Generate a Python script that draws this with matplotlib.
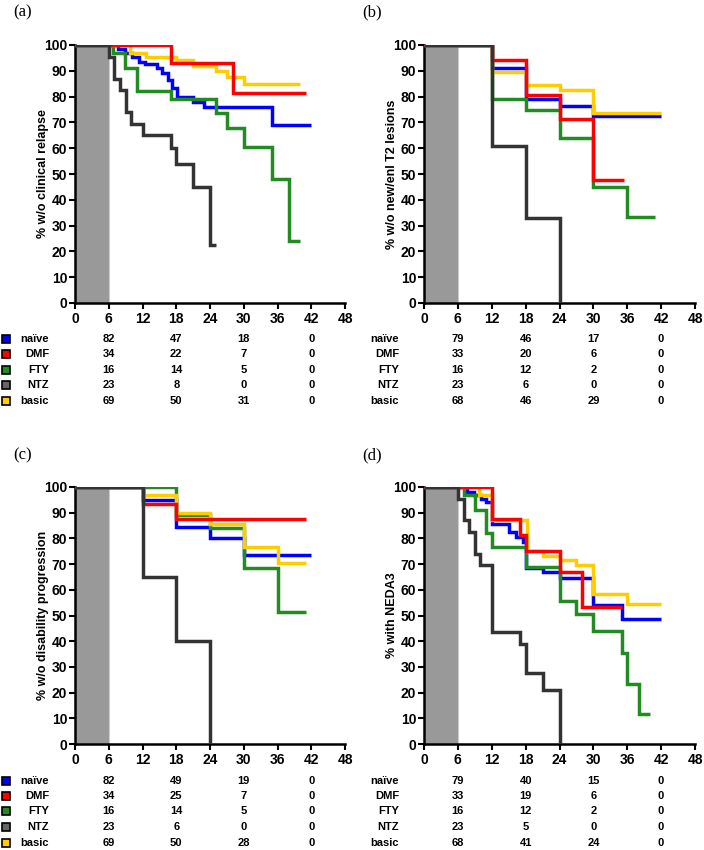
import matplotlib
matplotlib.use("Agg")
import matplotlib.pyplot as plt
from matplotlib.transforms import blended_transform_factory
from matplotlib.patches import Rectangle

plt.rcParams['font.family'] = ['Liberation Sans', 'DejaVu Sans']

# ---------------- data ----------------
groups = ["naïve", "DMF", "FTY", "NTZ", "basic"]
colors = {"naïve": "#0000ff", "DMF": "#ff0000", "FTY": "#228b22", "NTZ": "#333333", "basic": "#ffcc00"}
square_colors = {"naïve": "#0000ff", "DMF": "#ff0000", "FTY": "#228b22", "NTZ": "#666666", "basic": "#ffcc00"}
draw_order = ["naïve", "FTY", "basic", "DMF", "NTZ"]
xticks = [0, 6, 12, 18, 24, 30, 36, 42, 48]
yticks = [0, 10, 20, 30, 40, 50, 60, 70, 80, 90, 100]
risk_times = [6, 18, 30, 42]

# Panel (a): clinical relapse
A_naive_t = [0, 7.7, 8.9, 10.1, 11.3, 12.4, 14.5, 15.5, 16.5, 17.2, 18.1, 21, 23, 35, 42]
A_naive_s = [100, 98.5, 97, 95.5, 93.5, 92.5, 91, 89, 86.5, 83.5, 80, 78, 76, 69, 69]
A_dmf_t = [0, 17, 28, 41]
A_dmf_s = [100, 93, 81.5, 81.5]
A_fty_t = [0, 6.8, 8.9, 11, 17, 25, 27, 30, 35, 38, 40]
A_fty_s = [100, 97, 91, 82, 79, 73.5, 68, 60.5, 48, 24, 24]
A_ntz_t = [0, 6, 7, 8, 9, 10, 12, 17, 18, 21, 24, 25]
A_ntz_s = [100, 95.5, 87, 82.5, 74, 69.5, 65, 60, 54, 45, 22.5, 22.5]
A_basic_t = [0, 9.7, 12.7, 18, 21, 25, 27, 30, 40]
A_basic_s = [100, 97, 95.5, 94, 92, 90, 87.5, 85, 85]

# Panel (b): new/enlarging T2 lesions
B_naive_t = [0, 12, 18, 24, 30, 42]
B_naive_s = [100, 91, 79, 76.5, 72.5, 72.5]
B_dmf_t = [0, 12, 18, 24, 30, 35.5]
B_dmf_s = [100, 94, 80.5, 71.5, 47.5, 47.5]
B_fty_t = [0, 12, 18, 24, 30, 36, 41]
B_fty_s = [100, 79, 75, 64, 45, 33.5, 33.5]
B_ntz_t = [0, 12, 18, 24, 24]
B_ntz_s = [100, 61, 33, 0, 0]
B_basic_t = [0, 12, 18, 24, 30, 42]
B_basic_s = [100, 89.5, 84.5, 82.5, 73.5, 73.5]

# Panel (c): disability progression
C_naive_t = [0, 12, 18, 24, 30, 42]
C_naive_s = [100, 95, 84.5, 80, 73.5, 73.5]
C_dmf_t = [0, 12, 18, 41]
C_dmf_s = [100, 93.5, 87.5, 87.5]
C_fty_t = [0, 18, 24, 30, 36, 41]
C_fty_s = [100, 89, 84, 68.5, 51.5, 51.5]
C_ntz_t = [0, 12, 18, 24, 24]
C_ntz_s = [100, 65, 40, 0, 0]
C_basic_t = [0, 12, 18, 24, 30, 36, 41]
C_basic_s = [100, 97, 90, 85.5, 76.5, 70.5, 70.5]

# Panel (d): NEDA3
D_naive_t = [0, 7.7, 8.9, 10.1, 11, 12, 15, 16.3, 17.5, 18.1, 21, 24, 30, 35, 42]
D_naive_s = [100, 98, 97, 95.5, 94, 85.5, 82.5, 80.5, 78.5, 68.5, 67, 64.5, 54, 48.5, 48.5]
D_dmf_t = [0, 12, 17, 18, 24, 28, 35]
D_dmf_s = [100, 87.5, 81.5, 75, 67, 53.5, 53.5]
D_fty_t = [0, 7, 9, 11, 12, 18, 24, 27, 30, 35, 36, 38, 40]
D_fty_s = [100, 97, 91, 82, 76.5, 69, 55.5, 50.5, 44, 35.5, 23.5, 11.5, 11.5]
D_ntz_t = [0, 6, 7, 8, 9, 10, 12, 17, 18, 21, 24, 24]
D_ntz_s = [100, 95.5, 87, 82.5, 74, 69.5, 43.5, 39, 27.5, 21, 0, 0]
D_basic_t = [0, 9.8, 12, 18.2, 21, 24, 27, 30, 36, 42]
D_basic_s = [100, 97, 87, 75, 73, 71.5, 69.5, 58.5, 54.5, 54.5]

# numbers at risk
A_risk = {"naïve": [82, 47, 18, 0], "DMF": [34, 22, 7, 0], "FTY": [16, 14, 5, 0], "NTZ": [23, 8, 0, 0], "basic": [69, 50, 31, 0]}
B_risk = {"naïve": [79, 46, 17, 0], "DMF": [33, 20, 6, 0], "FTY": [16, 12, 2, 0], "NTZ": [23, 6, 0, 0], "basic": [68, 46, 29, 0]}
C_risk = {"naïve": [82, 49, 19, 0], "DMF": [34, 25, 7, 0], "FTY": [16, 14, 5, 0], "NTZ": [23, 6, 0, 0], "basic": [69, 50, 28, 0]}
D_risk = {"naïve": [79, 40, 15, 0], "DMF": [33, 19, 6, 0], "FTY": [16, 12, 2, 0], "NTZ": [23, 5, 0, 0], "basic": [68, 41, 24, 0]}

ylabels = ["% w/o clinical relapse", "% w/o new/enl T2 lesions",
           "% w/o disability progression", "% with NEDA3"]
panel_letters = ["(a)", "(b)", "(c)", "(d)"]

panels = [
    {"naïve": (A_naive_t, A_naive_s), "DMF": (A_dmf_t, A_dmf_s), "FTY": (A_fty_t, A_fty_s),
     "NTZ": (A_ntz_t, A_ntz_s), "basic": (A_basic_t, A_basic_s)},
    {"naïve": (B_naive_t, B_naive_s), "DMF": (B_dmf_t, B_dmf_s), "FTY": (B_fty_t, B_fty_s),
     "NTZ": (B_ntz_t, B_ntz_s), "basic": (B_basic_t, B_basic_s)},
    {"naïve": (C_naive_t, C_naive_s), "DMF": (C_dmf_t, C_dmf_s), "FTY": (C_fty_t, C_fty_s),
     "NTZ": (C_ntz_t, C_ntz_s), "basic": (C_basic_t, C_basic_s)},
    {"naïve": (D_naive_t, D_naive_s), "DMF": (D_dmf_t, D_dmf_s), "FTY": (D_fty_t, D_fty_s),
     "NTZ": (D_ntz_t, D_ntz_s), "basic": (D_basic_t, D_basic_s)},
]
risks = [A_risk, B_risk, C_risk, D_risk]

# ---------------- layout (pixels) ----------------
W, H = 704, 850
fig = plt.figure(figsize=(W / 100, H / 100), dpi=100)

boxes = [(75, 345, 45, 303), (424, 695, 45, 303), (75, 345, 487, 744), (424, 695, 487, 744)]
row_ys = [[339, 354, 370, 385, 401], [339, 354, 370, 385, 401],
          [781, 796, 811, 827, 843], [781, 796, 811, 827, 843]]
label_right = [49, 399, 49, 399]
letter_pos = [(13, 12), (362, 12), (13, 455), (362, 455)]
show_squares = [True, False, True, False]

for i in range(4):
    l, r, t, b = boxes[i]
    ax = fig.add_axes([l / W, 1 - b / H, (r - l) / W, (b - t) / H])
    ax.axvspan(0, 6, facecolor="#999999", edgecolor="none", zorder=1)
    ax.axvline(6, color="#cccccc", lw=0.8, zorder=1.5)
    for g in draw_order:
        tt, ss = panels[i][g]
        ax.step(tt, ss, where="post", color=colors[g], lw=2.5, zorder=3,
                solid_joinstyle="miter", solid_capstyle="butt")
    ax.set_xlim(0, 48)
    ax.set_ylim(0, 100)
    ax.set_xticks(xticks)
    ax.set_yticks(yticks)
    for s in ["top", "right"]:
        ax.spines[s].set_visible(False)
    for s in ["left", "bottom"]:
        ax.spines[s].set_linewidth(1.8)
    ax.tick_params(direction="out", length=4, width=1.5, labelsize=10, pad=1.5)
    ax.tick_params(axis="x", pad=2.5)
    for lab in ax.get_xticklabels() + ax.get_yticklabels():
        lab.set_fontweight("bold")
    ax.set_ylabel(ylabels[i], fontsize=9, fontweight="bold")
    ax.yaxis.set_label_coords(-0.097, 0.5)

    # numbers at risk table
    tr = blended_transform_factory(ax.transData, fig.transFigure)
    for k, g in enumerate(groups):
        yf = 1 - row_ys[i][k] / H
        fig.text(label_right[i] / W, yf, g, ha="right", va="center",
                 fontsize=8, fontweight="bold")
        for tval, n in zip(risk_times, risks[i][g]):
            ax.text(tval, yf, str(n), transform=tr, ha="center", va="center",
                    fontsize=8, fontweight="bold", clip_on=False)
        if show_squares[i]:
            sq = 8
            fig.patches.append(Rectangle(((6 - sq / 2) / W, yf - (sq / 2) / H), sq / W, sq / H,
                                         transform=fig.transFigure, facecolor=square_colors[g],
                                         edgecolor="black", lw=1.2))

    fig.text(letter_pos[i][0] / W, 1 - letter_pos[i][1] / H, panel_letters[i],
             ha="left", va="center", fontsize=12, family=["Liberation Serif", "DejaVu Serif"])

fig.savefig("out.png", dpi=100)
